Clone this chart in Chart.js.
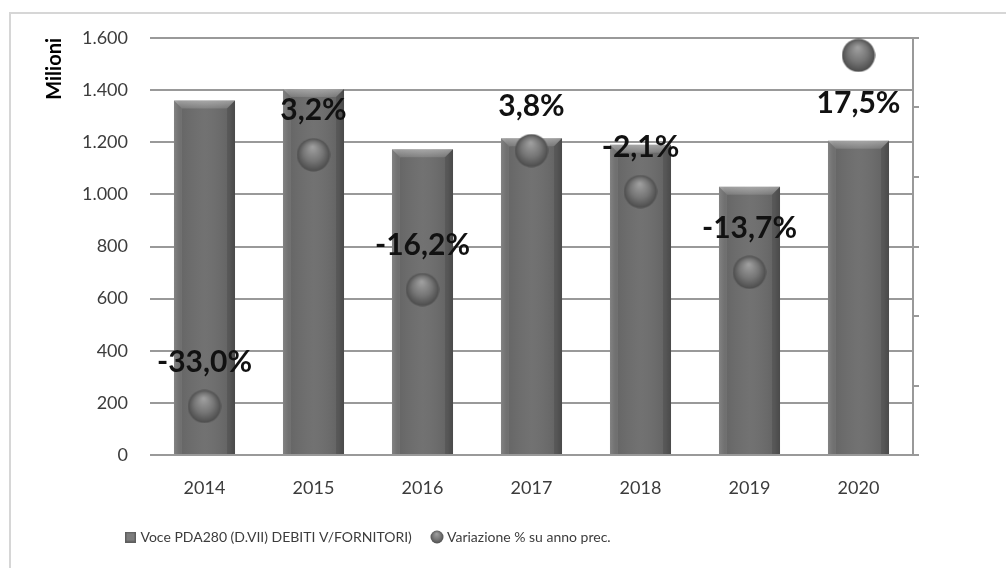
<!DOCTYPE html>
<html><head><meta charset="utf-8">
<script src="https://cdn.jsdelivr.net/npm/chart.js@4.4.1/dist/chart.umd.min.js"></script>
<style>
html,body{margin:0;padding:0;background:#fff;}
#wrap{position:relative;width:1006px;height:568px;overflow:hidden;background:#fff;}
#frame{position:absolute;left:9px;top:12px;width:1100px;height:700px;border:2px solid #d6d6d6;box-sizing:border-box;}
canvas{position:absolute;left:0;top:0;}
</style></head>
<body><div id="wrap"><div id="frame"></div><canvas id="c" width="1006" height="568"></canvas></div>
<script>
const categories = ['2014','2015','2016','2017','2018','2019','2020'];
const debitiValues = [1360, 1404, 1173, 1215, 1190, 1029, 1206];
const variazioneValues = [-33.0, 3.2, -16.2, 3.8, -2.1, -13.7, 17.5];
const leftTicks = [0, 200, 400, 600, 800, 1000, 1200, 1400, 1600];
const rightTicks = [-40, -30, -20, -10, 0, 10, 20];
const seriesNames = ['Voce PDA280 (D.VII) DEBITI V/FORNITORI)', 'Variazione % su anno prec.'];
const axisTitle = 'Milioni';

const FONT = 'Lato, "Liberation Sans", sans-serif';

function makeSphere(d){
  const c=document.createElement('canvas'); c.width=c.height=d;
  const g=c.getContext('2d'); const r=d/2;
  const grad=g.createRadialGradient(r*0.95, r*0.55, r*0.05, r, r, r);
  grad.addColorStop(0,'#9e9e9e'); grad.addColorStop(0.55,'#767676'); grad.addColorStop(1,'#4a4a4a');
  g.fillStyle=grad; g.beginPath(); g.arc(r,r,r-0.5,0,Math.PI*2); g.fill();
  return c;
}
function makeSquare(s){
  const c=document.createElement('canvas'); c.width=c.height=s;
  const g=c.getContext('2d');
  g.fillStyle='#5e5e5e'; g.fillRect(0,0,s,s);
  g.fillStyle='#7c7c7c'; g.fillRect(1.5,1.5,s-3,s-3);
  return c;
}
const sphere = makeSphere(34);
const legendSphere = makeSphere(14);
const legendSquare = makeSquare(11);

function fmtThousands(v){ return String(v).replace(/\B(?=(\d{3})+(?!\d))/g,'.'); }
function fmtPct(v){ return v.toFixed(1).replace('.', ',') + '%'; }

const bevelPlugin = {
  id:'bevel',
  afterDatasetDraw(chart, args){
    if (args.meta.type !== 'bar') return;
    const ctx = chart.ctx;
    args.meta.data.forEach(bar=>{
      const {x,y,base,width} = bar.getProps(['x','y','base','width'], true);
      const l=x-width/2, r=x+width/2, b=8, h=base-y;
      ctx.save();
      let g=ctx.createLinearGradient(l,0,r,0);
      g.addColorStop(0,'rgba(255,255,255,0.10)');
      g.addColorStop(0.1,'rgba(0,0,0,0.06)');
      g.addColorStop(0.5,'rgba(255,255,255,0.04)');
      g.addColorStop(0.9,'rgba(0,0,0,0.08)');
      g.addColorStop(1,'rgba(0,0,0,0.22)');
      ctx.fillStyle=g; ctx.fillRect(l,y,width,h);
      ctx.beginPath(); ctx.moveTo(l,y); ctx.lineTo(r,y); ctx.lineTo(r-b,y+b); ctx.lineTo(l+b,y+b); ctx.closePath();
      g=ctx.createLinearGradient(0,y,0,y+b);
      g.addColorStop(0,'rgba(255,255,255,0.38)'); g.addColorStop(1,'rgba(255,255,255,0.12)');
      ctx.fillStyle=g; ctx.fill();
      ctx.beginPath(); ctx.moveTo(l,y); ctx.lineTo(l+b,y+b); ctx.lineTo(l+b,base); ctx.lineTo(l,base); ctx.closePath();
      ctx.fillStyle='rgba(255,255,255,0.07)'; ctx.fill();
      ctx.beginPath(); ctx.moveTo(r,y); ctx.lineTo(r-b,y+b); ctx.lineTo(r-b,base); ctx.lineTo(r,base); ctx.closePath();
      ctx.fillStyle='rgba(0,0,0,0.12)'; ctx.fill();
      ctx.restore();
    });
  }
};

const labelPlugin = {
  id:'pctLabels',
  afterDatasetsDraw(chart){
    const ctx=chart.ctx;
    chart.data.datasets.forEach((ds,i)=>{
      const meta=chart.getDatasetMeta(i);
      if (meta.type!=='line') return;
      meta.data.forEach((pt,j)=>{
        let ty = pt.y - 44;
        if (ty - 14 < chart.chartArea.top) ty = pt.y + 48;
        ctx.save();
        ctx.font = 'bold 30px ' + FONT;
        ctx.fillStyle = '#111';
        ctx.textAlign='center'; ctx.textBaseline='middle';
        ctx.fillText(fmtPct(ds.data[j]), pt.x, ty);
        ctx.restore();
      });
    });
  }
};

const LEG_FONT = 14;
const LEG_H = 60;
const measureCtx = document.createElement('canvas').getContext('2d');
measureCtx.font = LEG_FONT + 'px ' + FONT;
const legBoxW = 6;
const tw1 = measureCtx.measureText(seriesNames[0]).width;
const legPadding = Math.max(8, 306.5 - (legBoxW + LEG_FONT/2) - tw1);

const legendPlace = {
  id:'legendPlace',
  beforeUpdate(chart){
    const lg = chart.legend;
    if (lg && !lg._fixedH){
      const f = lg.fit;
      lg.fit = function(){ f.call(this); this.height = LEG_H; };
      lg._fixedH = true;
    }
  },
  afterLayout(chart){
    const lg = chart.legend; if (!lg) return;
    lg.left = 127.5 - legPadding;
    lg.top = 530 - legPadding;
  }
};

new Chart(document.getElementById('c'), {
  data: {
    labels: categories,
    datasets: [
      { type:'bar', label: seriesNames[0], data: debitiValues, backgroundColor:'#6c6c6c', borderWidth:0,
        categoryPercentage:0.56, barPercentage:1, yAxisID:'y', order:2 },
      { type:'line', label: seriesNames[1], data: variazioneValues, showLine:false, pointStyle: sphere,
        pointRadius:17, pointHoverRadius:17, yAxisID:'y1', order:1 }
    ]
  },
  options: {
    responsive:false, animation:false,
    layout:{ padding:{ left:20, right:87, top:38, bottom:11 } },
    plugins:{
      tooltip:{ enabled:false },
      legend:{
        position:'bottom', align:'start',
        labels:{
          usePointStyle:true, boxWidth:legBoxW, boxHeight:LEG_FONT, padding:legPadding,
          color:'#3c3c3c', font:{ family:FONT, size:LEG_FONT },
          generateLabels(chart){
            return chart.data.datasets.map((ds,i)=>({
              text: ds.label, pointStyle: i===0 ? legendSquare : legendSphere,
              fillStyle:'#6c6c6c', strokeStyle:'#6c6c6c', lineWidth:0, hidden:false, datasetIndex:i, fontColor:'#3c3c3c'
            }));
          }
        }
      }
    },
    scales:{
      x:{
        grid:{ display:false, drawTicks:false }, border:{ display:false },
        ticks:{ padding:22, color:'#3c3c3c', font:{ family:FONT, size:18 } },
        afterFit(s){ s.height = 42; }
      },
      y:{
        position:'left', min:0, max:1600,
        afterBuildTicks(s){ s.ticks = leftTicks.map(v=>({value:v})); },
        grid:{ color:'#999', lineWidth:2, drawTicks:false }, border:{ display:false },
        ticks:{ padding:22, color:'#3c3c3c', font:{ family:FONT, size:18 }, callback:v=>fmtThousands(v) },
        title:{ display:true, text:axisTitle, align:'end', color:'#000',
                font:{ family:FONT, size:20, weight:'bold' }, padding:{ top:23, bottom:0 } },
        afterFit(s){ s.width = 130; }
      },
      y1:{
        position:'right', min:-40, max:20,
        afterBuildTicks(s){ s.ticks = rightTicks.map(v=>({value:v})); },
        grid:{ drawOnChartArea:false, drawTicks:true, tickLength:6, color:'#999', lineWidth:2 },
        border:{ display:true, color:'#999', width:2 },
        ticks:{ display:false },
        afterFit(s){ s.width = 6; }
      }
    }
  },
  plugins:[bevelPlugin, labelPlugin, legendPlace]
});
</script>
</body></html>
